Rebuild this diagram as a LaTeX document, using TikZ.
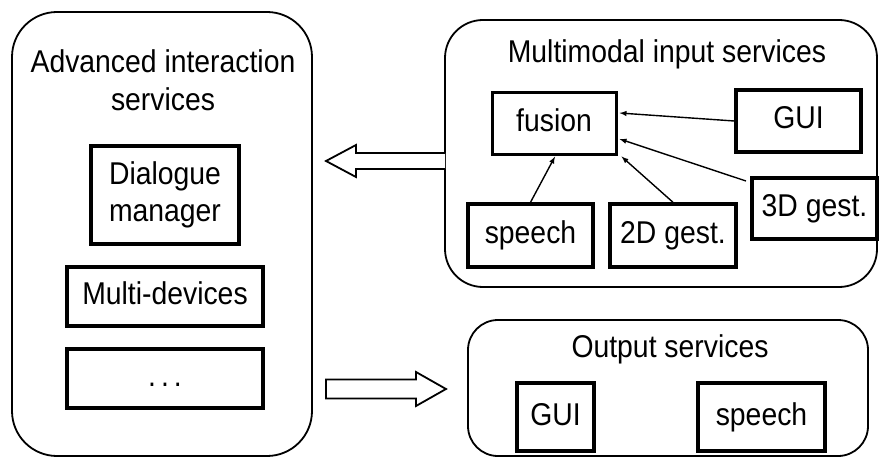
\documentclass[tikz,border=0pt]{standalone}
\usepackage{fontspec}
\setmainfont{Liberation Sans}[FakeStretch=0.9]
\begin{document}
\begin{tikzpicture}[x=1pt,y=-1pt,
  group/.style={draw, line width=1.8pt},
  item/.style={draw, line width=3.4pt, minimum width=#1, inner sep=0pt, text height=22pt, text depth=6pt},
  feed/.style={-latex, line width=1.4pt},
  hollow/.style={draw, line width=1.8pt, fill=white, line join=miter},
  font=\fontsize{31.5}{38}\selectfont]
\useasboundingbox (0,0) rectangle (880,457);

% containers
\draw[group, rounded corners=45pt] (12,12) rectangle (312,456);
\draw[group, rounded corners=38pt] (445,20) rectangle (877,287);
\draw[group, rounded corners=30pt] (468,320) rectangle (868,456);

% container titles
\node[align=center, inner sep=0pt] (advtitle) at (163,80) {Advanced interaction\\services};
\node[anchor=base, inner sep=0pt] (mmtitle) at (667,63) {Multimodal input services};
\node[anchor=base, inner sep=0pt] (outtitle) at (670,357) {Output services};

% advanced interaction services
\node[draw, line width=3.4pt, minimum width=148pt, minimum height=98pt, inner sep=0pt,
      align=center, font=\fontsize{31.5}{37}\selectfont] (dialog) at (165,195) {Dialogue\\manager};
\node[item=196pt, minimum height=59pt] (multi) at (165,296.5) {Multi-devices};
\node[item=196pt, minimum height=59pt] (more) at (165,378.5) {.\hspace{5pt}.\hspace{5pt}.};

% multimodal input services
\node[item=124pt, minimum height=62pt, line width=3pt] (fusion) at (554,124) {fusion};
\node[item=125pt, minimum height=62pt] (gui) at (798.5,121) {GUI};
\node[item=125pt, minimum height=63pt] (speech) at (530.5,235.5) {speech};
\node[item=126pt, minimum height=63pt] (gest2) at (673,235.5) {2D gest.};
\node[item=125pt, minimum height=61pt, line width=4pt] (gest3) at (814.5,208.5) {3D gest.};

% output services
\node[item=77pt, minimum height=68pt] (ogui) at (555.5,417) {GUI};
\node[item=127pt, minimum height=68pt] (ospeech) at (761.5,417) {speech};

% inputs feeding the fusion engine
\draw[feed] (gui.west) -- ([yshift=11pt, xshift=2pt]fusion.east);
\draw[feed] ([xshift=-4pt,yshift=-5pt]gest3.north west) -- ([yshift=-15pt, xshift=2pt]fusion.east);
\draw[feed] (gest2.north) -- ([xshift=4pt]fusion.south east);
\draw[feed] (speech.north) -- ([xshift=1pt]fusion.south);

% flows between the service groups
\draw[hollow] (445,153) -- (356,153) -- (356,145) -- (326,161) -- (356,177) -- (356,169) -- (445,169);
\draw[hollow] (326,379.5) -- (416,379.5) -- (416,372) -- (446,389) -- (416,406) -- (416,398.5) -- (326,398.5) -- cycle;
\end{tikzpicture}
\end{document}
